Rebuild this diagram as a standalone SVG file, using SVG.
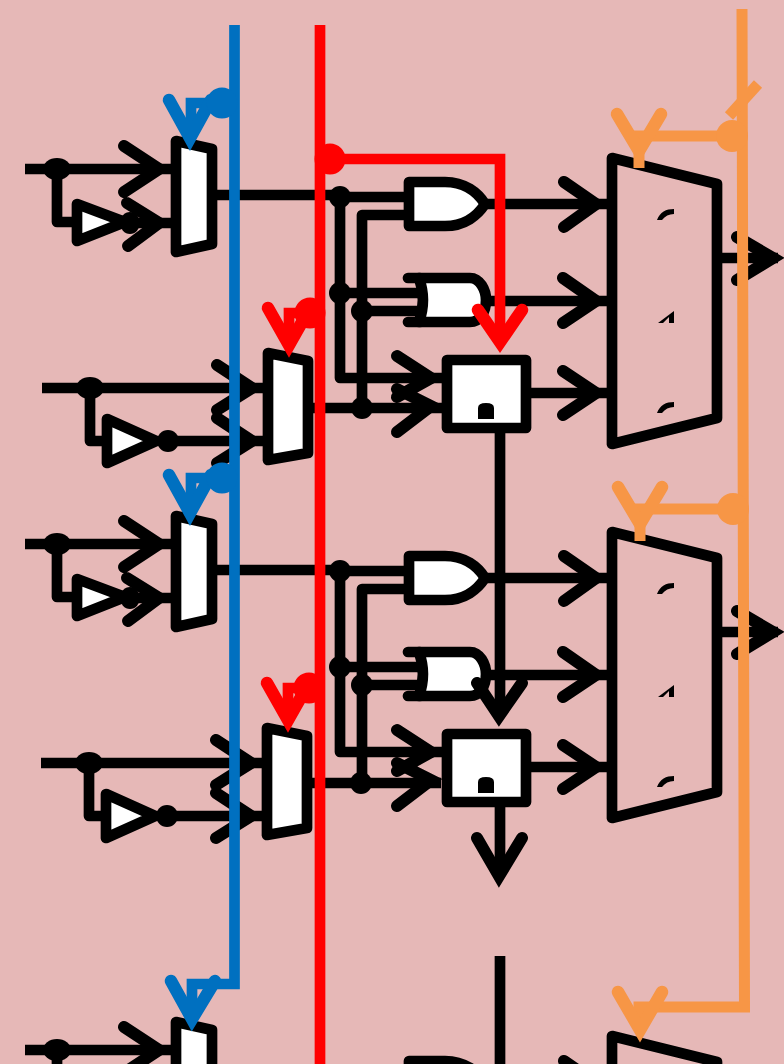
<svg xmlns="http://www.w3.org/2000/svg" width="784" height="1064" viewBox="0 0 784 1064">
<style>
.n{fill:#fff;stroke:#000;stroke-width:10.7;stroke-linejoin:round;stroke-linecap:round}
.o{fill:none;stroke:#000;stroke-width:10.7;stroke-linejoin:round}
.w{fill:none;stroke:#000;stroke-width:10.7;stroke-linejoin:round}
.a{fill:none;stroke:#000;stroke-width:12;stroke-linecap:round;stroke-linejoin:miter;stroke-miterlimit:10}
.k{fill:#000}
.bl{fill:none;stroke:#0070c0;stroke-width:10.7}
.re{fill:none;stroke:#f00;stroke-width:10.7}
.or{fill:none;stroke:#f79646;stroke-width:11}
.ba{fill:none;stroke:#0070c0;stroke-width:12.5;stroke-linecap:round;stroke-miterlimit:10}
.ra{fill:none;stroke:#f00;stroke-width:12.5;stroke-linecap:round;stroke-miterlimit:10}
.oa{fill:none;stroke:#f79646;stroke-width:12.5;stroke-linecap:round;stroke-miterlimit:10}
</style>
<defs>
<g id="mux-a"><path class="n" d="M176,141L212,149V244L176,252Z"/></g>
<g id="mux-b"><path class="n" d="M268,353L308,361V453L268,460Z"/></g>
<g id="buf-a"><path class="n" d="M77,204L125,222L77,241Z"/></g>
<g id="buf-b"><path class="n" d="M107,419L156,441L107,463Z"/></g>
<g id="and"><path class="n" d="M409,182H445C465,182 478,193 485,204C478,215 465,226 445,226H409Z"/></g>
<g id="or"><path d="M419,278H470C480,278 486,290 486,300C486,312 480,322 470,322H419C424,308 424,292 419,278Z" class="n"/><path class="n" d="M408,278H420M408,322H420"/></g>
<g id="ff"><rect class="n" x="447" y="360" width="79" height="68"/><path class="k" d="M478,419V408Q478,403 486,403Q494,403 494,408V419Z"/></g>
<g id="bigmux"><path class="o" d="M612,158L717,184V418L612,444Z"/><path class="k" d="M657,220C660,212 666,209 674,209V214C669,214 665,216 662,220ZM658,323L674,311V323H669V317L663,323ZM657,413C660,405 666,402 674,402V407C669,407 665,409 662,413Z"/></g>
<g id="wires-a">
<path class="w" d="M25,169H171M57,169V222H80M130,223H171M212,195H340"/>
<ellipse class="k" cx="57" cy="169" rx="14" ry="11"/><ellipse class="k" cx="130" cy="223" rx="10" ry="11"/>
<path class="a" d="M124,146L159,169L124,192M127,203L159,223L128,246"/>
</g>
<g id="wires-b">
<path class="w" d="M42,388H263M90,388V441H110M168,441H263M308,408H442"/>
<ellipse class="k" cx="90" cy="388" rx="14" ry="11"/><ellipse class="k" cx="168" cy="441" rx="11" ry="11"/>
<circle class="k" cx="362" cy="408" r="11"/>
<path class="a" d="M217,365L252,388L217,410M217,418L252,441L217,463"/>
</g>
<g id="wires-g">
<path class="w" d="M340,197H409M409,215H362V408M340,197V378H442M340,293H418M362,311H418M485,204H607M486,301H607M526,393H607"/>
<circle class="k" cx="340" cy="197" r="11"/><circle class="k" cx="340" cy="293" r="11"/><circle class="k" cx="362" cy="311" r="11"/>
<path class="a" d="M397,356L431,378L397,397M397,389L431,406L397,432"/>
<path class="a" d="M564,182L596,204L564,227M563,278L596,301L563,323M563,371L596,393L563,415"/>
<path class="w" d="M717,258H778"/>
<path class="a" d="M737,237L773,258L737,280"/>
</g>
<g id="blue-c"><path class="bl" d="M222,103H191V138"/><path class="ba" d="M169,100L190,138L211,100"/><circle cx="222" cy="103" r="15.5" fill="#0070c0"/></g>
<g id="red-c"><path class="re" d="M310,313H289V345"/><path class="ra" d="M268,308L289,345L310,308"/><circle cx="310" cy="313" r="15.5" fill="#f00"/></g>
<g id="orange-c"><path class="or" d="M732,136H639V168"/><path class="oa" d="M617,114L639,151L661,114"/><circle cx="732" cy="136" r="16" fill="#f79646"/></g>
</defs>
<rect width="784" height="1064" fill="#e6b8b7"/>
<g id="nodes">
<g id="mux1"><use href="#mux-a"/></g><g id="buf1"><use href="#buf-a"/></g>
<g id="mux2"><use href="#mux-b"/></g><g id="buf2"><use href="#buf-b"/></g>
<g id="and1"><use href="#and"/></g><g id="or1"><use href="#or"/></g><g id="ff1"><use href="#ff"/></g><g id="bigmux1"><use href="#bigmux"/></g>
<g id="mux3"><use href="#mux-a" y="375"/></g><g id="buf3"><use href="#buf-a" y="375"/></g>
<g id="mux4"><use href="#mux-b" x="-1" y="375"/></g><g id="buf4"><use href="#buf-b" x="-1" y="375"/></g>
<g id="and2"><use href="#and" y="374"/></g><g id="or2"><use href="#or" y="374"/></g><g id="ff2"><use href="#ff" y="374"/></g><g id="bigmux2"><use href="#bigmux" y="374"/></g>
<g id="mux5"><use href="#mux-a" y="881"/></g>
<g id="and3"><use href="#and" y="879"/></g>
<g id="bigmux3"><use href="#bigmux" y="878"/></g>
</g>
<g id="connectors">
<use href="#wires-a"/><use href="#wires-b"/><use href="#wires-g"/>
<use href="#wires-a" y="375"/><use href="#wires-b" x="-1" y="375"/><use href="#wires-g" y="374"/>
<path class="w" d="M25,1050H171M57,1050V1064"/><ellipse class="k" cx="57" cy="1050" rx="14" ry="11"/>
<path class="a" d="M124,1027L159,1050L124,1073"/>
<path class="a" d="M564,1061L596,1083L564,1106"/>
<path class="w" d="M500,428V712M500,802V872M500,956V1064"/>
<path class="a" d="M477,683L499,716L522,683M477,838L499,876L522,838"/>
<path class="bl" d="M234.500,25V984H192V1018"/>
<use href="#blue-c"/><use href="#blue-c" y="375"/>
<path class="ba" d="M171,981L192,1019L215,981"/>
<path class="re" d="M320,25V1064"/>
<use href="#red-c"/><use href="#red-c" x="-1" y="375"/>
<circle cx="330" cy="159" r="15.500" fill="#f00"/>
<path class="re" d="M330,159H500V340"/>
<path class="ra" d="M478,310L500,342L522,310"/>
<path class="or" d="M742,9L744.500,1007H639V1028"/>
<path class="or" d="M729,116L758,84"/>
<use href="#orange-c"/><use href="#orange-c" x="1" y="373"/>
<path class="oa" d="M618,992L640,1030L662,992"/>
</g>
</svg>
